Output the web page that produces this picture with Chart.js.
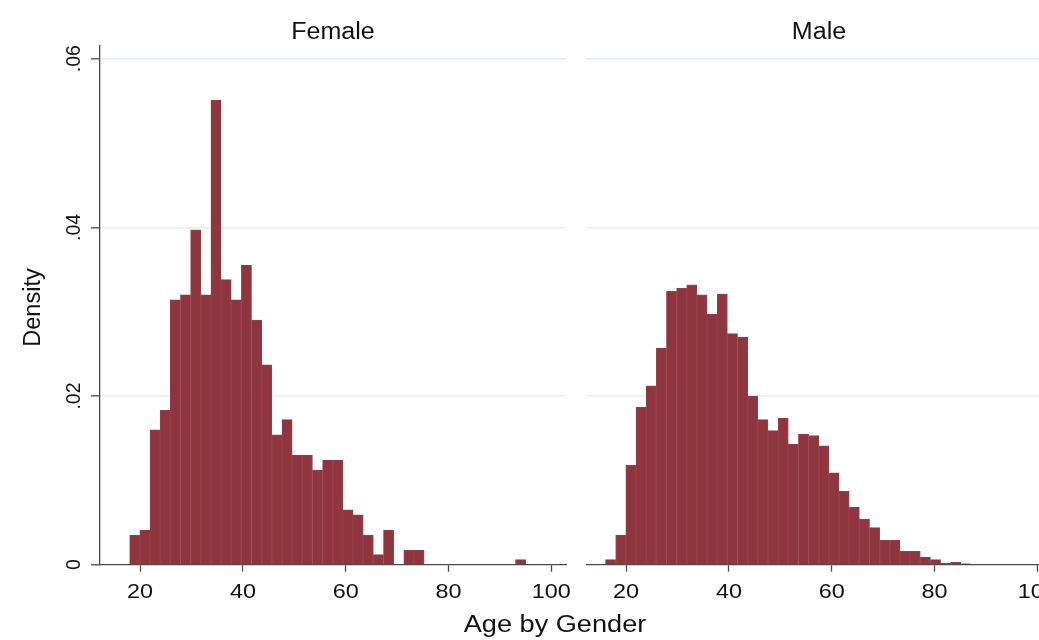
<!DOCTYPE html>
<html>
<head>
<meta charset="utf-8">
<title>Age by Gender</title>
<script src="https://cdn.jsdelivr.net/npm/chart.js@4.4.0/dist/chart.umd.min.js"></script>
<style>
  html, body { margin: 0; padding: 0; background: #fff; }
  body { width: 1039px; height: 640px; overflow: hidden; position: relative; }
  #femaleChart { position: absolute; left: 0; top: 0; }
  #maleChart { position: absolute; left: 586px; top: 0; }
</style>
</head>
<body>
<canvas id="femaleChart" width="1039" height="640"></canvas>
<canvas id="maleChart" width="480" height="640"></canvas>
<script>
// bin midpoints (age), common to both panels
const binMids = [
  16.9875, 18.9625, 20.9375, 22.9125, 24.8875, 26.8625, 28.8375, 30.8125,
  32.7875, 34.7625, 36.7375, 38.7125, 40.6875, 42.6625, 44.6375, 46.6125,
  48.5875, 50.5625, 52.5375, 54.5125, 56.4875, 58.4625, 60.4375, 62.4125,
  64.3875, 66.3625, 68.3375, 70.3125, 72.2875, 74.2625, 76.2375, 78.2125,
  80.1875, 82.1625, 84.1375, 86.1125, 88.0875, 90.0625, 92.0375, 94.0125
];

const femaleDensity = [
  0, 0.0035, 0.0041, 0.0160, 0.0183, 0.0314, 0.0320, 0.0397,
  0.0320, 0.0551, 0.0338, 0.0314, 0.0355, 0.0290, 0.0237, 0.0154,
  0.0172, 0.0130, 0.0130, 0.0112, 0.0124, 0.0124, 0.0065, 0.0059,
  0.0035, 0.0012, 0.0041, 0, 0.0017, 0.0017, 0, 0,
  0, 0, 0, 0, 0, 0, 0, 0.0006
];

const maleDensity = [
  0.0006, 0.0035, 0.0118, 0.0187, 0.0212, 0.0257, 0.0324, 0.0328,
  0.0332, 0.0320, 0.0297, 0.0321, 0.0274, 0.0270, 0.0200, 0.0172,
  0.0159, 0.0174, 0.0143, 0.0155, 0.0153, 0.0141, 0.0109, 0.0087,
  0.0068, 0.0054, 0.0044, 0.0029, 0.0029, 0.0016, 0.0016, 0.0009,
  0.0006, 0.0002, 0.0003, 0.0001, 0, 0, 0, 0
];

const xTickValues = [20, 40, 60, 80, 100];
const xTickLabels = ['20', '40', '60', '80', '100'];
const yTickValues = [0, 0.02, 0.04, 0.06];
const yTickLabels = ['0', '.02', '.04', '.06'];

const FONT = '"Liberation Sans", Arial, Helvetica, sans-serif';
const AXIS = '#4a4a4a';
const GRID = '#e5edf1';

function stretchText(ctx, text, x, y, size, sx, rotate) {
  ctx.save();
  ctx.font = size + 'px ' + FONT;
  ctx.fillStyle = '#111';
  ctx.textAlign = 'center';
  ctx.textBaseline = 'alphabetic';
  ctx.translate(x, y);
  if (rotate) ctx.rotate(-Math.PI / 2);
  ctx.scale(sx, 1);
  ctx.fillText(text, 0, 0);
  ctx.restore();
}

// Stata-like text: panel title, x tick labels, and (left panel only) y labels
const panelText = {
  id: 'panelText',
  afterDraw(chart, args, opts) {
    const ctx = chart.ctx;
    const ca = chart.chartArea;
    const xs = chart.scales.x;
    const ys = chart.scales.y;
    stretchText(ctx, opts.title, (ca.left + ca.right) / 2, 38.5, 23, 1.09);
    xTickValues.forEach((v, i) => {
      stretchText(ctx, xTickLabels[i], xs.getPixelForValue(v), 597.5, 19.5, 1.2);
    });
    if (opts.leftAxis) {
      yTickValues.forEach((v, i) => {
        stretchText(ctx, yTickLabels[i], 79.5, ys.getPixelForValue(v), 19.5, 1, true);
      });
      stretchText(ctx, 'Density', 39.5, 307.5, 23.5, 1, true);
      stretchText(ctx, 'Age by Gender', 555, 631.5, 23, 1.18);
    }
  }
};

function makePanel(id, title, values, leftAxis) {
  const ctx = document.getElementById(id).getContext('2d');
  return new Chart(ctx, {
    type: 'bar',
    data: {
      datasets: [{
        data: binMids.map((x, i) => ({ x: x, y: values[i] })),
        backgroundColor: '#8f353e',
        borderColor: '#9a434c',
        borderWidth: 0.8,
        barPercentage: 1,
        categoryPercentage: 1
      }]
    },
    options: {
      responsive: false,
      animation: false,
      layout: {
        padding: { top: 45.7, bottom: 0, left: 0, right: leftAxis ? 473 : 14 }
      },
      plugins: {
        legend: { display: false },
        tooltip: { enabled: false },
        panelText: { title: title, leftAxis: leftAxis }
      },
      scales: {
        x: {
          type: 'linear',
          min: 12.2,
          max: 102.85,
          offset: false,
          afterBuildTicks: (scale) => { scale.ticks = xTickValues.map(v => ({ value: v })); },
          afterFit: (scale) => { scale.height = 75.3; },
          ticks: { display: false },
          grid: {
            offset: false,
            drawOnChartArea: false,
            drawTicks: true,
            tickLength: 7,
            tickColor: AXIS,
            tickWidth: 1.3
          },
          border: { display: true, color: AXIS, width: 1.3 }
        },
        y: {
          min: 0,
          max: 0.06154,
          afterBuildTicks: (scale) => { scale.ticks = yTickValues.map(v => ({ value: v })); },
          afterFit: (scale) => { scale.width = leftAxis ? 100 : 0; },
          ticks: { display: false },
          grid: {
            color: (c) => (c.tick && c.tick.value === 0 ? 'rgba(0,0,0,0)' : GRID),
            lineWidth: 1.6,
            drawTicks: leftAxis,
            tickLength: leftAxis ? 9 : 0,
            tickColor: AXIS,
            tickWidth: 1.3
          },
          border: { display: leftAxis, color: AXIS, width: 1.3 }
        }
      }
    },
    plugins: [panelText]
  });
}

makePanel('femaleChart', 'Female', femaleDensity, true);
makePanel('maleChart', 'Male', maleDensity, false);
</script>
</body>
</html>
